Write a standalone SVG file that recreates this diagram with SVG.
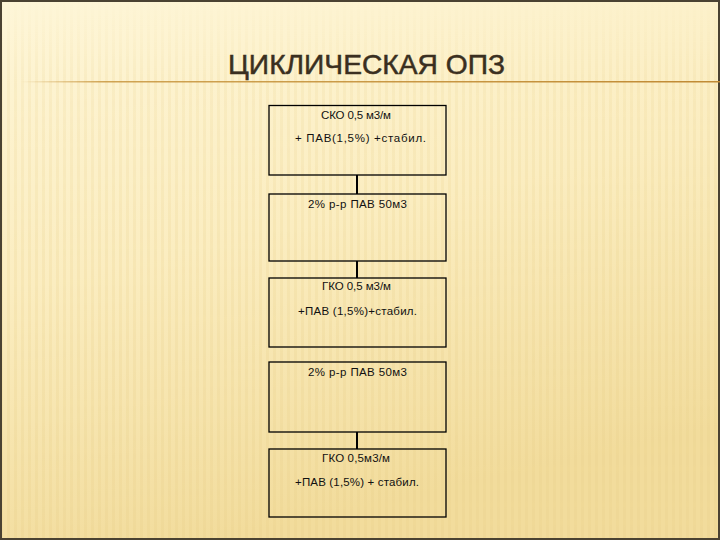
<svg xmlns="http://www.w3.org/2000/svg" width="720" height="540" viewBox="0 0 720 540">
  <defs>
    <linearGradient id="bg" x1="0" y1="0" x2="0.3" y2="1">
      <stop offset="0" stop-color="#fef6d8"/>
      <stop offset="0.5" stop-color="#fbedc0"/>
      <stop offset="1" stop-color="#f2dc9c"/>
    </linearGradient>
    <linearGradient id="rule" gradientUnits="userSpaceOnUse" x1="20" y1="0" x2="720" y2="0">
      <stop offset="0" stop-color="#c8963e" stop-opacity="0"/>
      <stop offset="0.12" stop-color="#c8963e" stop-opacity="0.85"/>
      <stop offset="1" stop-color="#c08a34"/>
    </linearGradient>
    <pattern id="stripes" width="7" height="540" patternUnits="userSpaceOnUse">
      <rect x="0" y="0" width="3" height="540" fill="#e8cf8a"/>
    </pattern>
    <linearGradient id="fade" x1="0" y1="0" x2="0" y2="1">
      <stop offset="0" stop-color="#fff" stop-opacity="0"/>
      <stop offset="0.15" stop-color="#fff" stop-opacity="0.5"/>
      <stop offset="1" stop-color="#fff" stop-opacity="0.8"/>
    </linearGradient>
    <mask id="stripeMask">
      <rect width="720" height="540" fill="url(#fade)"/>
    </mask>
  </defs>
  <style>
    .box { fill: none; stroke: #000; stroke-width: 1.3; }
    .lbl { font-family: "Liberation Sans", Arial, sans-serif; font-size: 11.5px; fill: #111; text-anchor: middle; }
    .conn { stroke: #000; stroke-width: 2; }
    .title { font-family: "Liberation Sans", Arial, sans-serif; font-size: 28px; fill: #3a2f20; stroke: #3a2f20; stroke-width: 0.5; }
  </style>
  <rect width="720" height="540" fill="url(#bg)"/>
  <rect width="720" height="540" fill="url(#stripes)" opacity="0.35" mask="url(#stripeMask)"/>
  <rect x="1" y="1" width="718" height="538" fill="none" stroke="#4a4232" stroke-width="2"/>
  <rect x="20" y="81" width="700" height="1.5" fill="url(#rule)"/>
  <text class="title" x="228" y="74" textLength="277" lengthAdjust="spacingAndGlyphs">ЦИКЛИЧЕСКАЯ ОПЗ</text>

  <g id="connectors">
    <line class="conn" x1="357" y1="175" x2="357" y2="194"/>
    <line class="conn" x1="357" y1="261" x2="357" y2="278"/>
    <line class="conn" x1="357" y1="432" x2="357" y2="449"/>
  </g>

  <g id="node1">
    <rect class="box" x="269" y="105.5" width="177" height="69.5"/>
    <text class="lbl" x="356" y="119" textLength="70">СКО 0,5 м3/м</text>
    <text class="lbl" x="360.5" y="142" textLength="131">+ ПАВ(1,5%) +стабил.</text>
  </g>
  <g id="node2">
    <rect class="box" x="269" y="194" width="177" height="67"/>
    <text class="lbl" x="357.5" y="208" textLength="99">2% р-р ПАВ 50м3</text>
  </g>
  <g id="node3">
    <rect class="box" x="269" y="278" width="177" height="69"/>
    <text class="lbl" x="356.5" y="290" textLength="69">ГКО 0,5 м3/м</text>
    <text class="lbl" x="357.5" y="315" textLength="119">+ПАВ (1,5%)+стабил.</text>
  </g>
  <g id="node4">
    <rect class="box" x="269" y="362" width="177" height="70"/>
    <text class="lbl" x="357.5" y="376" textLength="99">2% р-р ПАВ 50м3</text>
  </g>
  <g id="node5">
    <rect class="box" x="269" y="449" width="177" height="68"/>
    <text class="lbl" x="356" y="461.5" textLength="68">ГКО 0,5м3/м</text>
    <text class="lbl" x="357" y="485.5" textLength="124">+ПАВ (1,5%) + стабил.</text>
  </g>
</svg>
